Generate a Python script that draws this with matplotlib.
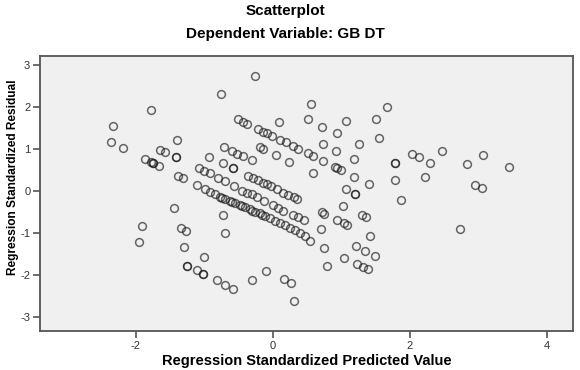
import numpy as np
import matplotlib
matplotlib.use("Agg")
import matplotlib.pyplot as plt

plt.rcParams['font.family'] = ['Liberation Sans', 'DejaVu Sans']
plt.rcParams['axes.unicode_minus'] = False

# diagonal bands (regression standardized predicted value, residual)
band1_x = [-0.507, -0.442, -0.384, -0.215, -0.142, -0.088, -0.019, 0.102, 0.190, 0.296, 0.372, 0.511, 0.584]
band1_y = [1.707, 1.643, 1.600, 1.469, 1.405, 1.367, 1.310, 1.219, 1.152, 1.064, 0.993, 0.898, 0.826]

band15_x = [-0.190, -0.142, 0.044, 0.238, 0.584]
band15_y = [1.040, 0.993, 0.850, 0.690, 0.414]

band2_x = [-0.715, -0.591, -0.518, -0.434, -0.307]
band2_y = [1.048, 0.957, 0.886, 0.826, 0.731]

band2b_x = [-0.930, -0.726, -0.580, -0.580, -0.361, -0.288, -0.215, -0.142, -0.092,
            -0.029, 0.054, 0.142, 0.223, 0.307, 0.355]
band2b_y = [0.810, 0.652, 0.533, 0.533, 0.350, 0.295, 0.255, 0.190, 0.160,
            0.112, 0.033, -0.048, -0.102, -0.157, -0.205]

band3_x = [-1.080, -1.007, -0.920, -0.796, -0.701, -0.569, -0.457, -0.384, -0.311,
           -0.238, -0.131, 0.004, 0.077, 0.150, 0.296, 0.369, 0.453]
band3_y = [0.533, 0.476, 0.414, 0.295, 0.236, 0.112, 0.000, -0.048, -0.079,
           -0.143, -0.245, -0.340, -0.419, -0.471, -0.579, -0.633, -0.705]

band4_x = [-1.380, -1.317, -1.105, -0.993, -0.920, -0.847, -0.774, -0.693, -0.628,
           -0.555, -0.482, -0.409, -0.336, -0.263, -0.190, -0.117, -0.036, 0.029,
           0.102, 0.175, 0.248, 0.321, 0.394, 0.467, 0.540,
           -0.737, -0.591, -0.445, -0.299, -0.153]
band4_y = [0.355, 0.314, 0.136, 0.040, -0.024, -0.079, -0.138, -0.186, -0.233,
           -0.288, -0.333, -0.388, -0.443, -0.500, -0.538, -0.602, -0.657, -0.714,
           -0.769, -0.824, -0.876, -0.936, -1.007, -1.079, -1.186,
           -0.162, -0.262, -0.364, -0.471, -0.571]

# scattered points
left_x = [-1.861, -1.777, -1.756, -1.756, -1.657, -1.645, -1.572, -1.416, -1.416,
          -1.406, -1.785, -2.340, -2.361, -2.194, -0.764, -0.263]
left_y = [0.755, 0.676, 0.652, 0.652, 0.583, 0.981, 0.926, 0.810, 0.810,
          1.207, 1.914, 1.540, 1.160, 1.017, 2.314, 2.731]

mid_x = [0.083, 0.507, 0.550, 0.723, 1.061, 0.930, 0.734, 0.927, 1.251, 1.182,
         0.727, 0.905, 0.930, 0.997, 1.187, 1.406, 1.061, 1.201, 1.201, 1.026,
         0.715, 0.752, 0.930, 1.034, 1.085, 1.295, 1.365, 0.696, 1.419, 0.745,
         1.212, 1.343, 1.489, 1.036, 0.784, 1.222, 1.318, 1.387]
mid_y = [1.636, 1.700, 2.076, 1.524, 1.660, 1.367, 1.112, 0.952, 1.105, 0.748,
         0.707, 0.571, 0.540, 0.493, 0.333, 0.155, 0.040, -0.086, -0.086, -0.364,
         -0.512, -0.545, -0.686, -0.776, -0.817, -0.579, -0.621, -0.900, -1.079, -1.352,
         -1.317, -1.424, -1.543, -1.590, -1.793, -1.738, -1.817, -1.857]

right_x = [1.660, 1.504, 1.552, 1.781, 1.781, 1.785, 1.864, 2.025, 2.136, 2.296,
           2.219, 2.463, 3.070, 2.832, 3.441, 2.949, 3.051, 2.734]
right_y = [2.000, 1.714, 1.267, 0.671, 0.671, 0.262, -0.221, 0.886, 0.795, 0.667,
           0.319, 0.945, 0.855, 0.643, 0.557, 0.136, 0.064, -0.919]

low_x = [-1.445, -0.734, -1.917, -1.336, -1.273, -0.693, -1.952, -1.295, -1.000,
         -1.248, -1.248, -1.102, -1.018, -1.018, -0.822, -0.696, -0.580, -0.311,
         -0.099, 0.168, 0.263, 0.307]
low_y = [-0.400, -0.574, -0.836, -0.895, -0.948, -1.012, -1.217, -1.348, -1.583,
         -1.793, -1.793, -1.895, -1.979, -1.979, -2.133, -2.240, -2.329, -2.133,
         -1.900, -2.110, -2.190, -2.631]

x = np.concatenate([band1_x, band15_x, band2_x, band2b_x, band3_x, band4_x,
                    left_x, mid_x, right_x, low_x])
y = np.concatenate([band1_y, band15_y, band2_y, band2b_y, band3_y, band4_y,
                    left_y, mid_y, right_y, low_y])

fig = plt.figure(figsize=(5.8, 3.7), dpi=100)
ax = fig.add_axes([0.069, 0.105, 0.919, 0.744])
ax.set_facecolor('#f0f0f0')

ax.plot(x, y, 'o', markersize=5.6, markerfacecolor='none',
        markeredgecolor=(0.1, 0.1, 0.1, 0.65), markeredgewidth=1.1)

ax.set_xlim(-3.40, 4.38)
ax.set_ylim(-3.34, 3.21)
ax.set_xticks([-2, 0, 2, 4])
ax.set_yticks([-3, -2, -1, 0, 1, 2, 3])
ax.tick_params(length=5, width=1.2, color='#555555', labelsize=8,
               labelcolor='#333333', pad=2)
for s in ax.spines.values():
    s.set_color('#555555')
    s.set_linewidth(1.3)

ax.set_xlabel('Regression Standardized Predicted Value', fontsize=10.5,
              fontweight='bold', labelpad=2)
ax.set_ylabel('Regression Standardized Residual', fontsize=8.6,
              fontweight='bold')
ax.yaxis.set_label_coords(-0.040, 0.56)

fig.text(0.492, 0.97, 'Scatterplot', ha='center', va='center',
         fontsize=11, fontweight='bold')
fig.text(0.492, 0.908, 'Dependent Variable: GB DT', ha='center', va='center',
         fontsize=11, fontweight='bold')

fig.savefig('out.png', dpi=100)
